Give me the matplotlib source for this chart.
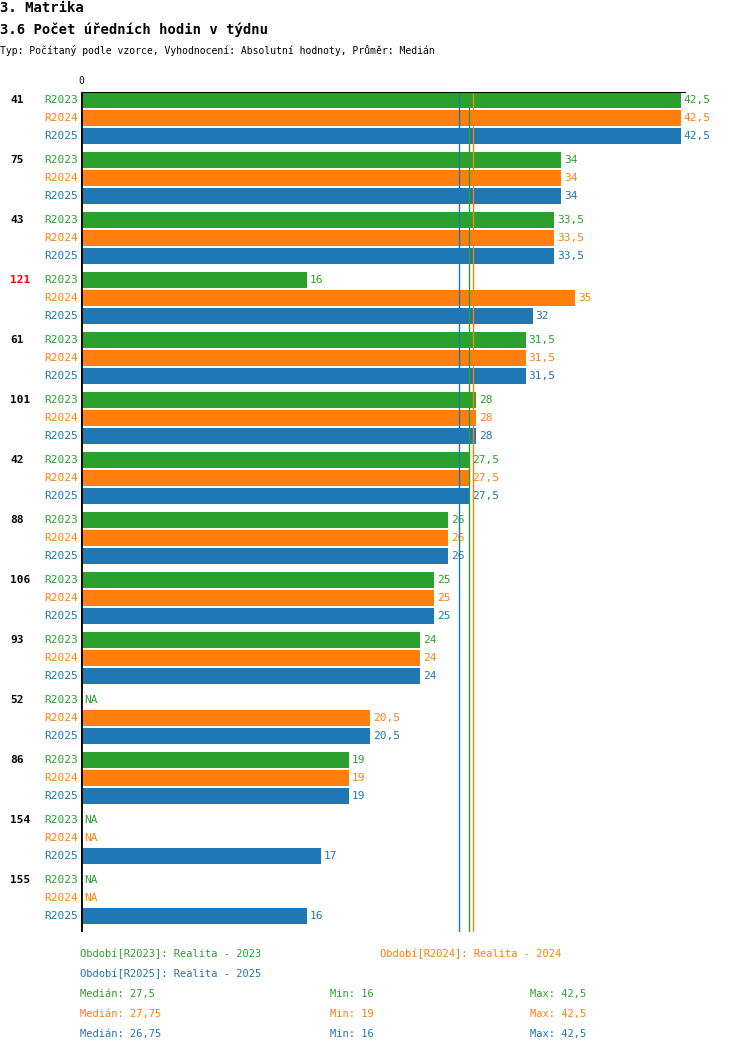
import matplotlib.pyplot as plt
import numpy as np

plt.rcParams['font.family'] = ['DejaVu Sans Mono']

groups = ["41", "75", "43", "121", "61", "101", "42", "88", "106", "93", "52", "86", "154", "155"]
r2023 = [42.5, 34, 33.5, 16, 31.5, 28, 27.5, 26, 25, 24, None, 19, None, None]
r2024 = [42.5, 34, 33.5, 35, 31.5, 28, 27.5, 26, 25, 24, 20.5, 19, None, None]
r2025 = [42.5, 34, 33.5, 32, 31.5, 28, 27.5, 26, 25, 24, 20.5, 19, 17, 16]
series = ["R2023", "R2024", "R2025"]
colors = ["#2ca02c", "#ff7f0e", "#1f77b4"]
medians = [27.5, 27.75, 26.75]
mins = [16, 19, 16]
maxs = [42.5, 42.5, 42.5]
highlight = {"121"}

W, H = 750, 1052
fig = plt.figure(figsize=(W / 100, H / 100), dpi=100)
ax_l, ax_r, ax_t, ax_b = 81, 686, 92, 932
ax = fig.add_axes([ax_l / W, 1 - ax_b / H, (ax_r - ax_l) / W, (ax_b - ax_t) / H])
xmax = (ax_r - ax_l) / (600 / 42.5)
ax.set_xlim(0, xmax)
ax.set_ylim(ax_b, ax_t)
ax.axis('off')

def fmt(v):
    s = f"{v:g}"
    return s.replace('.', ',')

for g, name in enumerate(groups):
    vals = [r2023[g], r2024[g], r2025[g]]
    for j, v in enumerate(vals):
        yc = 100 + 60 * g + 18 * j
        if v is not None:
            ax.barh(yc, v, height=16, color=colors[j], zorder=2)
            ax.text(v + 0.2, yc, fmt(v), color=colors[j], fontsize=8, va='center', ha='left')
        else:
            ax.text(0.2, yc, "NA", color=colors[j], fontsize=8, va='center', ha='left')
        fig.text(78 / W, 1 - yc / H, series[j], color=colors[j], fontsize=8, ha='right', va='center')
    fig.text(10 / W, 1 - (100 + 60 * g) / H, name, fontsize=8, fontweight='bold',
             color='red' if name in highlight else 'black', ha='left', va='center')

for m, c in zip(medians, colors):
    ax.axvline(m, color=c, lw=1, zorder=3)
ax.axvline(0, color='black', lw=2, zorder=4)
ax.axhline(ax_t, color='black', lw=1.5, zorder=4)
fig.text(81 / W, 1 - 81 / H, "0", fontsize=7, ha='center', va='center')

fig.text(0, 1 - 8 / H, "3. Matrika", fontsize=10, fontweight='bold', va='center')
fig.text(0, 1 - 30 / H, "3.6 Počet úředních hodin v týdnu", fontsize=10, fontweight='bold', va='center')
fig.text(0, 1 - 51 / H, "Typ: Počítaný podle vzorce, Vyhodnocení: Absolutní hodnoty, Průměr: Medián",
         fontsize=7, va='center')

fig.text(80 / W, 1 - 954 / H, "Období[R2023]: Realita - 2023", color=colors[0], fontsize=7.5, va='center')
fig.text(380 / W, 1 - 954 / H, "Období[R2024]: Realita - 2024", color=colors[1], fontsize=7.5, va='center')
fig.text(80 / W, 1 - 974 / H, "Období[R2025]: Realita - 2025", color=colors[2], fontsize=7.5, va='center')
for i in range(3):
    y = 1 - (994 + 20 * i) / H
    fig.text(80 / W, y, f"Medián: {fmt(medians[i])}", color=colors[i], fontsize=7.5, va='center')
    fig.text(330 / W, y, f"Min: {fmt(mins[i])}", color=colors[i], fontsize=7.5, va='center')
    fig.text(530 / W, y, f"Max: {fmt(maxs[i])}", color=colors[i], fontsize=7.5, va='center')

fig.savefig("out.png", dpi=100)
